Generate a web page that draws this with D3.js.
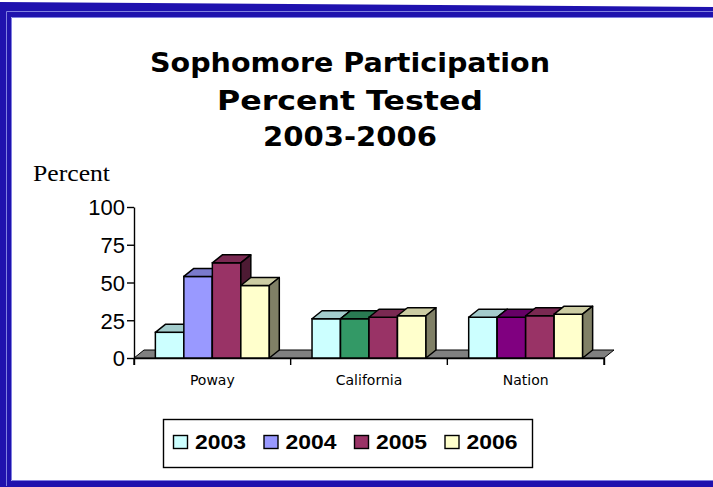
<!DOCTYPE html>
<html>
<head>
<meta charset="utf-8">
<title>Sophomore Participation</title>
<script src="https://d3js.org/d3.v7.min.js"></script>
<style>
body { margin: 0; background: #fff; }
svg { display: block; }
.axis path, .axis line { stroke: #000; stroke-width: 1.4; fill: none; }
.axis text { font-family: "Liberation Sans", Arial, sans-serif; font-size: 22px; fill: #000; }
</style>
</head>
<body>
<script>
// chart data
var categories = ["Poway", "California", "Nation"];
var years = ["2003", "2004", "2005", "2006"];
var v2003 = [17, 26, 27];
var v2004 = [54, 26, 27];
var v2005 = [63, 27, 28];
var v2006 = [48, 28, 29];
var yTicks = [0, 25, 50, 75, 100];
var titleLines = ["Sophomore Participation", "Percent Tested", "2003-2006"];
var seriesColors = ["#CCFFFF", "#9999FF", "#993366", "#FFFFCC"];
// [series, category, colour] - single points recoloured in the original
var pointColors = [[1, 1, "#339966"], [1, 2, "#800080"]];

var series = [v2003, v2004, v2005, v2006];

var W = 713, H = 487;
var depth = {x: 10, y: -8};

var svg = d3.select("body").append("svg")
  .attr("width", W).attr("height", H);

// blue slide frame
svg.append("path")
  .attr("d", "M0,2 L713,7 L713,487 L0,487 Z")
  .attr("fill", "#1F12AE");
svg.append("rect").attr("x", 11).attr("y", 17).attr("width", 720).attr("height", 464)
  .attr("fill", "#fff");
svg.append("path")
  .attr("d", "M720,11.5 L6.5,11.5 L6.5,486")
  .attr("fill", "none").attr("stroke", "#8080E0").attr("stroke-width", 1);
svg.append("path")
  .attr("d", "M720,17.5 L11.5,17.5 L11.5,480.5 L720,480.5")
  .attr("fill", "none").attr("stroke", "#8080E0").attr("stroke-width", 1);

// title
var titleBase = [72, 110, 146], titleW = [400, 266, 174];
svg.append("g").selectAll("text")
  .data(titleLines)
  .enter().append("text")
  .attr("x", 350)
  .attr("y", function(d, i) { return titleBase[i]; })
  .attr("text-anchor", "middle")
  .attr("textLength", function(d, i) { return titleW[i]; })
  .attr("lengthAdjust", "spacingAndGlyphs")
  .style("font-family", "'DejaVu Sans', sans-serif")
  .style("font-weight", "bold")
  .style("font-size", "27px")
  .text(function(d) { return d; });

svg.append("text")
  .attr("x", 33).attr("y", 181)
  .attr("textLength", 77).attr("lengthAdjust", "spacingAndGlyphs")
  .style("font-family", "'Liberation Serif', serif")
  .style("font-size", "23px")
  .text("Percent");

// scales
var x0 = d3.scaleBand().domain(categories).range([134, 604]);
var x1 = d3.scaleBand().domain(years).range([0, x0.bandwidth()])
  .paddingInner(0).paddingOuter(0.75);
var y = d3.scaleLinear().domain([0, 100]).range([358, 207]);

function shade(c, f) {
  var r = d3.rgb(c);
  return d3.rgb(r.r * f, r.g * f, r.b * f).formatHex();
}
function colorOf(s, c) {
  var col = seriesColors[s];
  pointColors.forEach(function(p) { if (p[0] == s && p[1] == c) col = p[2]; });
  return col;
}

// floor
var fx0 = x0.range()[0], fx1 = x0.range()[1], fy = y(0);
svg.append("path")
  .attr("d", "M" + fx0 + "," + fy + " L" + fx1 + "," + fy +
    " L" + (fx1 + depth.x) + "," + (fy + depth.y) +
    " L" + (fx0 + depth.x) + "," + (fy + depth.y) + " Z")
  .attr("fill", "#808080").attr("stroke", "#000").attr("stroke-width", 1);

// axes
var yAxis = d3.axisLeft(y).tickValues(yTicks).tickSize(7).tickSizeOuter(0).tickPadding(2);
svg.append("g").attr("class", "axis")
  .attr("transform", "translate(" + fx0 + ",0)")
  .call(yAxis)
  .call(function(g) { g.selectAll("text").attr("dy", "0.36em"); });

var xAxis = d3.axisBottom(x0).tickSize(7).tickSizeOuter(7).tickFormat("");
svg.append("g").attr("class", "axis")
  .attr("transform", "translate(0," + fy + ")")
  .call(xAxis)
  .call(function(g) {
    // ticks on category boundaries rather than centres
    g.selectAll(".tick").remove();
    var edges = [fx0].concat(categories.map(function(c) { return x0(c) + x0.bandwidth(); }));
    g.selectAll(".edge").data(edges).enter().append("line")
      .attr("x1", function(d) { return d; }).attr("x2", function(d) { return d; })
      .attr("y1", 0).attr("y2", 7);
  });

svg.append("g").selectAll("text")
  .data(categories)
  .enter().append("text")
  .attr("x", function(d) { return x0(d) + x0.bandwidth() / 2; })
  .attr("y", 385)
  .attr("text-anchor", "middle")
  .style("font-family", "'DejaVu Sans', sans-serif")
  .style("font-size", "14px")
  .text(function(d) { return d; });

// 3d bars
var bars = svg.append("g");
categories.forEach(function(cat, ci) {
  years.forEach(function(yr, si) {
    var v = series[si][ci];
    var col = colorOf(si, ci);
    var bx = x0(cat) + x1(yr), bw = x1.bandwidth();
    var top = y(v), bot = y(0);
    var g = bars.append("g").attr("class", "bar");
    g.append("rect")
      .attr("x", bx).attr("y", top).attr("width", bw).attr("height", bot - top)
      .attr("fill", col).attr("stroke", "#000").attr("stroke-width", 1.5);
    g.append("path")
      .attr("d", "M" + bx + "," + top + " L" + (bx + bw) + "," + top +
        " L" + (bx + bw + depth.x) + "," + (top + depth.y) +
        " L" + (bx + depth.x) + "," + (top + depth.y) + " Z")
      .attr("fill", shade(col, 0.8)).attr("stroke", "#000").attr("stroke-width", 1.5)
      .attr("stroke-linejoin", "round");
    g.append("path")
      .attr("d", "M" + (bx + bw) + "," + top + " L" + (bx + bw + depth.x) + "," + (top + depth.y) +
        " L" + (bx + bw + depth.x) + "," + (bot + depth.y) +
        " L" + (bx + bw) + "," + bot + " Z")
      .attr("fill", shade(col, 0.5)).attr("stroke", "#000").attr("stroke-width", 1.5)
      .attr("stroke-linejoin", "round");
  });
});

// legend
var legend = svg.append("g");
legend.append("rect")
  .attr("x", 163.5).attr("y", 419.5).attr("width", 369).attr("height", 48)
  .attr("fill", "#fff").attr("stroke", "#000").attr("stroke-width", 1.4);
var item = legend.selectAll(".item")
  .data(years)
  .enter().append("g")
  .attr("transform", function(d, i) { return "translate(" + (173 + i * 90.5) + ",0)"; });
item.append("rect")
  .attr("x", 0.5).attr("y", 435.5).attr("width", 14).attr("height", 13)
  .attr("fill", function(d, i) { return seriesColors[i]; })
  .attr("stroke", "#000").attr("stroke-width", 1.4);
item.append("text")
  .attr("x", 22).attr("y", 449)
  .attr("textLength", 51).attr("lengthAdjust", "spacingAndGlyphs")
  .style("font-family", "'Liberation Sans', Arial, sans-serif")
  .style("font-weight", "bold")
  .style("font-size", "21px")
  .text(function(d) { return d; });
</script>
</body>
</html>
